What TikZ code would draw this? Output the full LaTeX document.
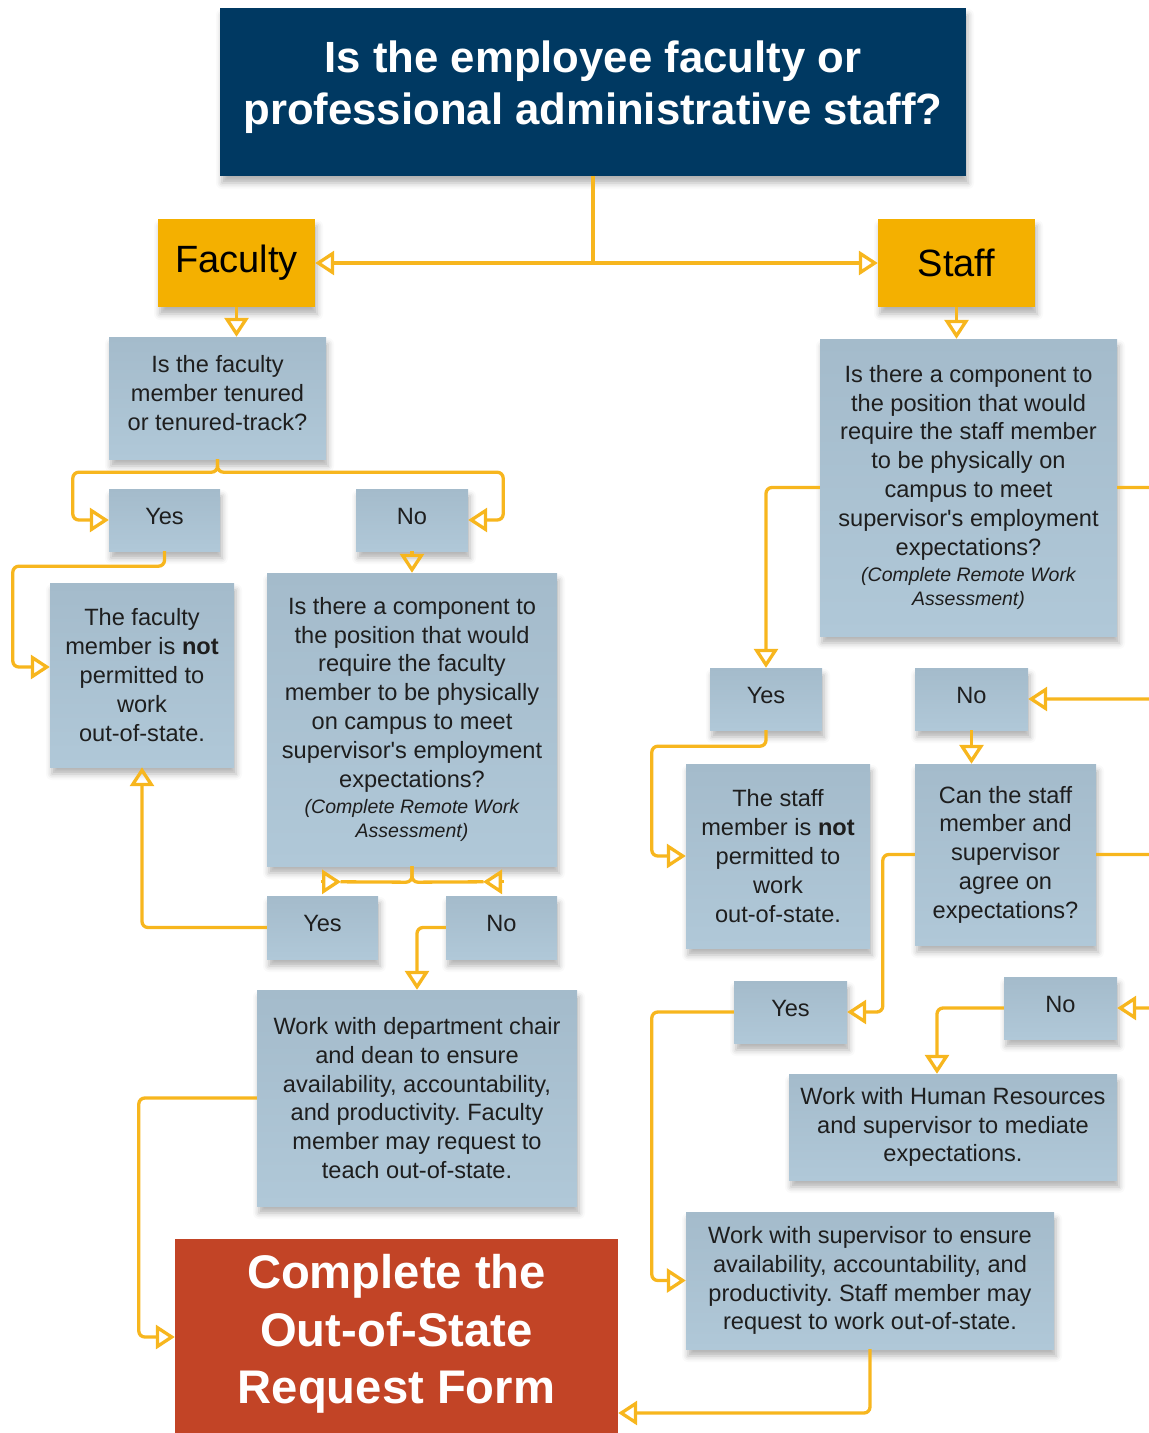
\documentclass[tikz,border=0pt]{standalone}
\usepackage{fontspec}
\setmainfont{Liberation Sans}[Ligatures=TeXOff]
\usetikzlibrary{arrows.meta,shadows.blur}
\definecolor{navy}{RGB}{0,57,98}
\definecolor{amberbox}{RGB}{244,176,0}
\definecolor{lineamber}{RGB}{247,182,30}
\definecolor{boxtop}{RGB}{164,187,203}
\definecolor{boxbot}{RGB}{176,200,216}
\definecolor{formred}{RGB}{194,68,38}
\definecolor{txt}{RGB}{30,30,30}
\newcommand{\smallit}{\itshape\fontsize{19.5}{24}\selectfont}
\newcommand{\shiftup}[2]{\raisebox{#1}[\height][\depth]{\begin{tabular}{@{}c@{}}#2\end{tabular}}}
\newcommand{\yn}[1]{\shiftup{1.5pt}{#1}}
\frenchspacing
\begin{document}
\begin{tikzpicture}[x=1pt,y=-1pt,
  shadowed/.style={blur shadow={shadow xshift=2pt,shadow yshift=-7pt,shadow blur radius=6pt,shadow opacity=30}},
  qbox/.style={shadowed,top color=boxtop,bottom color=boxbot,draw=none,text=txt,align=center,inner sep=0pt,
    font=\fontsize{23.6}{28.8}\selectfont},
  catbox/.style={shadowed,fill=amberbox,draw=none,text=black,inner sep=0pt,font=\fontsize{38}{44}\selectfont},
  line/.style={draw=lineamber,line width=3.3pt,rounded corners=6pt},
  conn/.style={line,-{Triangle[open,length=19pt,width=24pt]}}
]
\useasboundingbox (0,0) rectangle (1149,1433);
\clip (0,0) rectangle (1149,1433);

% ---------- nodes ----------
\node[shadowed,fill=navy,text=white,align=center,inner sep=0pt,minimum width=746pt,minimum height=168pt,
  font=\bfseries\fontsize{43.7}{52}\selectfont] (title) at (593,92)
  {\shiftup{3.5pt}{Is the employee faculty or\\professional administrative staff?}};

\node[catbox,minimum width=157pt,minimum height=88pt] (fac) at (236.5,263) {Faculty};
\node[catbox,minimum width=157pt,minimum height=88pt] (staff) at (956.5,263) {Staff};

\node[qbox,minimum width=217pt,minimum height=122pt] (facq) at (217.5,398)
  {\shiftup{2.5pt}{Is the faculty\\member tenured\\or tenured-track?}};
\node[qbox,minimum width=111pt,minimum height=62pt] (yesA) at (164.5,520) {\yn{Yes}};
\node[qbox,minimum width=112pt,minimum height=62pt] (noA) at (412,520) {\yn{No}};
\node[qbox,minimum width=184pt,minimum height=184pt] (facnot) at (142,675)
  {The faculty\\member is \textbf{not}\\permitted to\\work\\out-of-state.};
\node[qbox,minimum width=290pt,minimum height=293pt] (faccomp) at (412,719.5)
  {Is there a component to\\the position that would\\require the faculty\\member to be physically\\on campus to meet\\supervisor's employment\\expectations?\\[-2pt]{\smallit (Complete Remote Work}\\[-5pt]{\smallit Assessment)}};
\node[qbox,minimum width=111pt,minimum height=63pt] (yesB) at (322.5,927.5) {\yn{Yes}};
\node[qbox,minimum width=111pt,minimum height=63pt] (noB) at (501.5,927.5) {\yn{No}};
\node[qbox,minimum width=320pt,minimum height=216pt] (dept) at (417,1098)
  {Work with department chair\\and dean to ensure\\availability, accountability,\\and productivity. Faculty\\member may request to\\teach out-of-state.};

\node[fill=formred,text=white,align=center,inner sep=0pt,minimum width=443pt,minimum height=182pt,
  font=\bfseries\fontsize{47.2}{57.5}\selectfont] (form) at (396.5,1330)
  {\shiftup{-4.5pt}{Complete the\\Out-of-State\\Request Form}};
\fill[formred] ([yshift=1pt]form.south west) rectangle ([yshift=-20pt]form.south east);

\node[qbox,minimum width=297pt,minimum height=297pt] (staffq) at (968.5,487.5)
  {Is there a component to\\the position that would\\require the staff member\\to be physically on\\campus to meet\\supervisor's employment\\expectations?\\[-2pt]{\smallit (Complete Remote Work}\\[-5pt]{\smallit Assessment)}};
\node[qbox,minimum width=112pt,minimum height=62pt] (yesC) at (766,699) {\yn{Yes}};
\node[qbox,minimum width=113pt,minimum height=62pt] (noC) at (971.5,699) {\yn{No}};
\node[qbox,minimum width=184pt,minimum height=184pt] (staffnot) at (778,856)
  {The staff\\member is \textbf{not}\\permitted to\\work\\out-of-state.};
\node[qbox,minimum width=181pt,minimum height=181pt] (can) at (1005.5,854.5)
  {Can the staff\\member and\\supervisor\\agree on\\expectations?};
\node[qbox,minimum width=113pt,minimum height=62pt] (yesD) at (790.5,1012) {\yn{Yes}};
\node[qbox,minimum width=113pt,minimum height=62pt] (noD) at (1060.5,1008) {\yn{No}};
\node[qbox,minimum width=328pt,minimum height=106pt] (hr) at (953,1127)
  {Work with Human Resources\\and supervisor to mediate\\expectations.};
\node[qbox,minimum width=368pt,minimum height=137pt] (sup) at (870,1280.5)
  {Work with supervisor to ensure\\availability, accountability, and\\productivity. Staff member may\\request to work out-of-state.};

% ---------- connectors ----------
\coordinate (split) at (title.south |- fac.east);
\draw[line,rounded corners=0pt] (title.south) -- (split);
\draw[conn,rounded corners=0pt] (split) -- (fac.east);
\draw[conn,rounded corners=0pt] (split) -- (staff.west);

\draw[conn] (fac.south) -- (fac.south |- facq.north);
\draw[conn] (staff.south) -- (staff.south |- staffq.north);

\draw[conn] (facq.south) -- ++(0,13) -| ([xshift=-36pt]yesA.west) -- (yesA.west);
\draw[conn] (facq.south) -- ++(0,13) -| ([xshift=35pt]noA.east) -- (noA.east);

\draw[conn] (yesA.south) -- ++(0,15) -| ([xshift=-37pt,yshift=8pt]facnot.west) -- ([yshift=8pt]facnot.west);
\draw[conn] (noA.south) -- (faccomp.north);

\draw[line] (faccomp.south) -- ++(0,16) -- ([xshift=18pt,yshift=14pt]yesB.north);
\draw[conn] ([xshift=-2pt,yshift=14pt]yesB.north) -- ++(20.5,0);
\draw[line] (faccomp.south) -- ++(0,16) -- ([xshift=-18pt,yshift=14pt]noB.north);
\draw[conn] ([xshift=2pt,yshift=14pt]noB.north) -- ++(-20.5,0);

\draw[conn] (yesB.west) -| (facnot.south);
\draw[conn] (noB.west) -| (dept.north);
\draw[conn] (dept.west) -- ++(-118,0) |- ([yshift=-7pt]form.west);

\draw[conn] (staffq.west) -| (yesC.north);
\draw[conn] (staffq.east) -- ++(60,0) |- (noC.east);
\draw[conn] (yesC.south) -- ++(0,16) -| ([xshift=-34pt]staffnot.west) -- (staffnot.west);
\draw[conn] (noC.south) -- (noC.south |- can.north);
\draw[conn] (can.west) -- ++(-32,0) |- (yesD.east);
\draw[conn] (can.east) -- ++(80,0) |- (noD.east);
\draw[conn] (noD.west) -| ([xshift=-16pt]hr.north);
\draw[conn] (yesD.west) -- ++(-82,0) |- (sup.west);
\draw[conn] (sup.south) |- ([yshift=-83pt]form.east);
\end{tikzpicture}
\end{document}
